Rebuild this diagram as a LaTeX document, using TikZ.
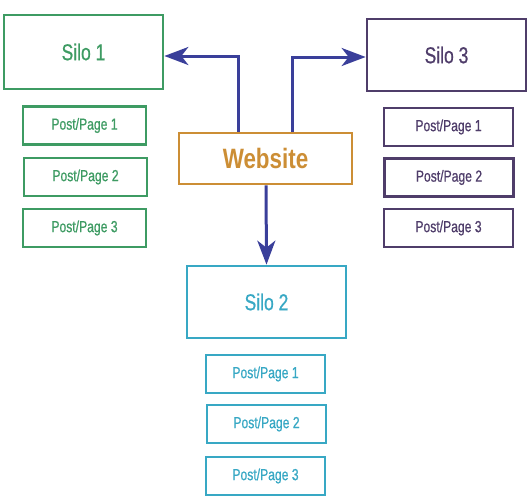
\documentclass[tikz,border=0pt]{standalone}
\usepackage{fontspec}
\usetikzlibrary{arrows.meta}
\newfontfamily\narrowsans[FakeStretch=0.76,FakeBold=0.7]{Liberation Sans}
\newfontfamily\narrowbold[FakeStretch=0.8]{Liberation Sans Bold}
\definecolor{siloone}{HTML}{3E9B63}
\definecolor{silotwo}{HTML}{38A8C4}
\definecolor{silothree}{HTML}{4F3D6A}
\definecolor{webcol}{HTML}{CC8E35}
\definecolor{arrowcol}{HTML}{3A3F9A}
\begin{document}
\begin{tikzpicture}[x=1pt,y=-1pt]

        \useasboundingbox (0,0) rectangle (530,498);

        \begin{scope}[every node/.style={draw,line width=2.7pt,inner sep=0pt,
            minimum width=159pt,minimum height=72pt,
            font=\narrowsans\fontsize{23}{23}\selectfont}]
          \node[siloone,minimum height=74pt]   (s1) at (83.5,52)  {Silo 1};
          \node[silotwo]   (s2) at (266.5,302) {Silo 2};
          \node[silothree] (s3) at (446.5,55)  {Silo 3};
          \node[webcol,minimum width=173pt,minimum height=51pt,
            font=\narrowbold\fontsize{28}{28}\selectfont] (web) at (265.5,158.5) {Website};
        \end{scope}

        \begin{scope}[every node/.style={draw,line width=2.7pt,inner sep=0pt,
            minimum height=38pt,font=\narrowsans\fontsize{16}{16}\selectfont}]
          \node[siloone,minimum width=123pt]   (s1p1) at (84.5,125.5)  {Post/Page 1};
          \node[siloone,minimum width=123pt]   (s1p2) at (85.5,177)    {Post/Page 2};
          \node[siloone,minimum width=123pt]   (s1p3) at (84.5,228)    {Post/Page 3};
          \node[silothree,minimum width=129pt] (s3p1) at (448.5,127)   {Post/Page 1};
          \node[silothree,minimum width=129pt] (s3p2) at (449,177.5)   {Post/Page 2};
          \node[silothree,minimum width=129pt] (s3p3) at (448.5,228)   {Post/Page 3};
          \node[silotwo,minimum width=119pt]   (s2p1) at (265.5,374)   {Post/Page 1};
          \node[silotwo,minimum width=119pt]   (s2p2) at (266.5,424)   {Post/Page 2};
          \node[silotwo,minimum width=119pt]   (s2p3) at (265.5,476)   {Post/Page 3};
        \end{scope}

        \begin{scope}[every path/.style={draw,arrowcol,line width=3pt,
            -{Stealth[length=24pt,width=18pt,inset=7pt]}}]
            \path ([xshift=-27.5pt]web.north) |- ([yshift=-4pt]s1.east);
            \path ([xshift=26.5pt]web.north)  |- ([yshift=-2pt]s3.west);
            \path ([xshift=0.5pt]web.south)   -- (s2.north);
        \end{scope}

      \end{tikzpicture}
\end{document}
